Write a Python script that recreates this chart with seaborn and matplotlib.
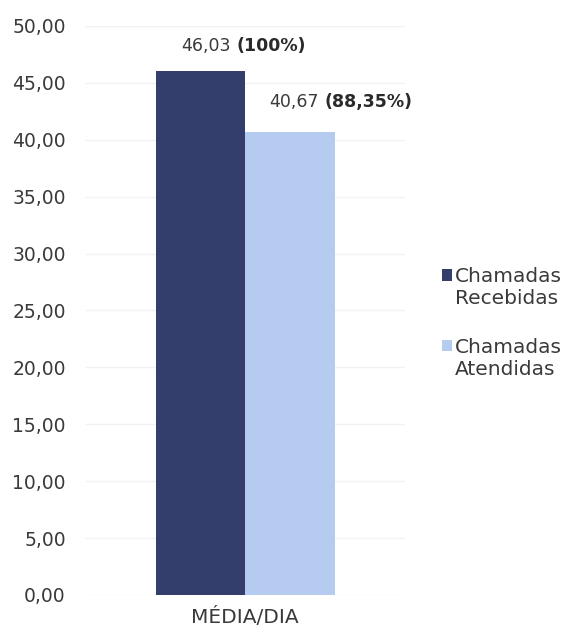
import matplotlib
matplotlib.use("Agg")
import matplotlib.pyplot as plt
import seaborn as sns
import pandas as pd
from matplotlib.legend_handler import HandlerPatch
from matplotlib.patches import Rectangle

# Average calls per day
categories = ["MÉDIA/DIA"]
series = ["Chamadas\nRecebidas", "Chamadas\nAtendidas"]
values = [46.03, 40.67]
percents = ["(100%)", "(88,35%)"]
value_labels = ["46,03", "40,67"]
yticks = [0, 5, 10, 15, 20, 25, 30, 35, 40, 45, 50]
colors = ["#333e6c", "#b5cbf0"]

df = pd.DataFrame({
    "cat": [categories[0]] * len(series),
    "serie": series,
    "valor": values,
})

sns.set_theme(style="white")
plt.rcParams["font.family"] = ["DejaVu Sans"]

fig = plt.figure(figsize=(5.72, 6.38), dpi=100)
ax = fig.add_axes([0.149, 0.0674, 0.559, 0.892])

sns.barplot(data=df, x="cat", y="valor", hue="serie", palette=colors,
            width=0.56, ax=ax, saturation=1, legend=True, linewidth=0)

ax.set_ylim(0, 50)
ax.set_xlim(-0.5, 0.5)
ax.set_yticks(yticks)
ax.set_yticklabels([f"{v:.2f}".replace(".", ",") for v in yticks],
                   fontsize=13.5, color="#3a3a3a")
ax.tick_params(axis="y", length=0, pad=14)
ax.tick_params(axis="x", length=0, pad=9, labelsize=14.5, labelcolor="#3a3a3a")
ax.set_xlabel("")
ax.set_ylabel("")
ax.yaxis.grid(True, color="#f2f2f2", linewidth=1)
ax.set_axisbelow(True)
for s in ax.spines.values():
    s.set_visible(False)

# value labels: number in regular weight, percentage in bold
offsets = [(24, 18), (23, 22)]
for bar, num, pct, (dx, dy) in zip(ax.patches[:2], value_labels, percents, offsets):
    xc = bar.get_x() + bar.get_width() / 2
    h = bar.get_height()
    ax.annotate(num, (xc, h), xytext=(dx - 2, dy), textcoords="offset points",
                ha="right", va="center", fontsize=12.5, color="#3a3a3a")
    ax.annotate(pct, (xc, h), xytext=(dx + 2, dy), textcoords="offset points",
                ha="left", va="center", fontsize=12.5, color="#2a2a2a",
                fontweight="bold")


class FirstLineSquare(HandlerPatch):
    """Legend square placed beside the first line of a two-line label."""

    def create_artists(self, legend, orig_handle, xdescent, ydescent,
                       width, height, fontsize, trans):
        sq = Rectangle((-xdescent, -ydescent + 0.65 * fontsize), width, height,
                       facecolor=orig_handle.get_facecolor(), edgecolor="none",
                       transform=trans)
        return [sq]


handles, labels = ax.get_legend_handles_labels()
ax.legend(handles, labels, loc="center left", bbox_to_anchor=(1.085, 0.478),
          frameon=False, fontsize=14.5, handlelength=0.5, handleheight=0.5,
          handletextpad=0.15, labelspacing=1.45, labelcolor="#3a3a3a",
          borderpad=0, handler_map={h: FirstLineSquare() for h in handles})

fig.savefig("out.png", dpi=100)
